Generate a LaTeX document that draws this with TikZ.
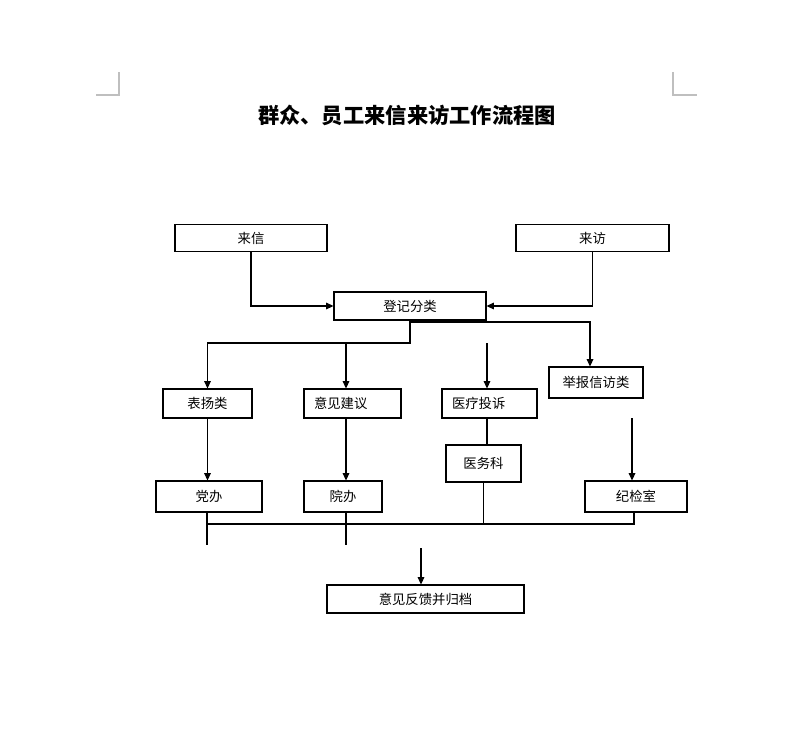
\documentclass[tikz,border=0pt]{standalone}
\usepackage{fontspec}
\newfontfamily\cjk{Noto Sans CJK SC}
\usetikzlibrary{calc, positioning, arrows.meta}
\newcommand{\pxl}{0.02cm}

\begin{document}
\begin{tikzpicture}[x=0.02cm, y=-0.02cm,
  kuang/.style={draw, line width=0.6pt, inner sep=0pt, font=\cjk\fontsize{7.6}{9}\selectfont},
  jt/.style={line width=0.6pt, -{Triangle[length=4.2pt, width=3.8pt]}},
  xian/.style={line width=0.6pt}]
  \useasboundingbox (0,0) rectangle (786,740);
  % page corner marks
  \draw[black!25, line width=0.6pt] (96,95) -- (119,95) -- (119,72);
  \draw[black!25, line width=0.6pt] (673,72) -- (673,95) -- (697,95);
  \node[font=\cjk\bfseries\fontsize{12.1}{14}\selectfont] (biaoti) at (407,115) {群众、员工来信来访工作流程图};

  % boxes
  \node[kuang, minimum width=152*\pxl, minimum height=27*\pxl] (laixin) at (251,238) {来信};
  \node[kuang, minimum width=153*\pxl, minimum height=27*\pxl] (laifang) at (592.5,238) {来访};
  \node[kuang, minimum width=152*\pxl, minimum height=28*\pxl] (dengji) at (410,306) {登记分类};
  \node[kuang, minimum width=89*\pxl, minimum height=29*\pxl] (biaoyang) at (207.5,403.5) {表扬类};
  \node[kuang, minimum height=29*\pxl, text width=77*\pxl, inner xsep=10*\pxl, align=left] (yijian) at (352.5,403.5) {意见建议};
  \node[kuang, minimum height=29*\pxl, text width=75*\pxl, inner xsep=10*\pxl, align=left] (yiliao) at (489.5,403.5) {医疗投诉};
  \node[kuang, minimum width=94*\pxl, minimum height=31*\pxl] (jubao) at (596,382.5) {举报信访类};
  \node[kuang, minimum width=75*\pxl, minimum height=37*\pxl] (yiwu) at (483.5,463.5) {医务科};
  \node[kuang, minimum width=106*\pxl, minimum height=31*\pxl] (dangban) at (209,496.5) {党办};
  \node[kuang, minimum width=78*\pxl, minimum height=31*\pxl] (yuanban) at (343,496.5) {院办};
  \node[kuang, minimum width=102*\pxl, minimum height=31*\pxl] (jijian) at (636,496.5) {纪检室};
  \node[kuang, minimum width=197*\pxl, minimum height=28*\pxl] (fankui) at (425.5,599) {意见反馈并归档};

  % split points
  \coordinate (fenzhi) at (410,343);
  \coordinate (youfen) at (410,322);
  \coordinate (jbtop) at (590,322);
  \coordinate (yjtop) at (346,343);
  \coordinate (yltop) at (487,343);
  \coordinate (jjtop) at (632,418);
  \coordinate (huil) at (207,524);
  \coordinate (huir) at (634,524);
  \coordinate (dbend) at (207,545);
  \coordinate (ybend) at (346,545);
  \coordinate (fktop) at (421,548);

  % connectors
  \draw[jt] (laixin.south) |- (dengji.west);
  \draw[jt] (laifang.south) |- (dengji.east);
  \draw[jt] (dengji.south) -- (fenzhi) -| (biaoyang.north);
  \draw[jt] (yjtop) -- (yjtop |- yijian.north);
  \draw[jt] (youfen) -- (jbtop) -- (jbtop |- jubao.north);
  \draw[jt] (yltop) -- (yltop |- yiliao.north);
  \draw[xian] (yltop |- yiliao.south) -- (yltop |- yiwu.north);
  \draw[jt] (biaoyang.south) -- (biaoyang.south |- dangban.north);
  \draw[jt] (yjtop |- yijian.south) -- (yjtop |- yuanban.north);
  \draw[jt] (jjtop) -- (jjtop |- jijian.north);
  \draw[xian] (dbend |- dangban.south) -- (dbend);
  \draw[xian] (ybend |- yuanban.south) -- (ybend);
  \draw[xian] (huil) -- (huir) -- (huir |- jijian.south);
  \draw[xian] (yiwu.south) -- (yiwu.south |- huil);
  \draw[jt] (fktop) -- (fktop |- fankui.north);
\end{tikzpicture}
\end{document}
